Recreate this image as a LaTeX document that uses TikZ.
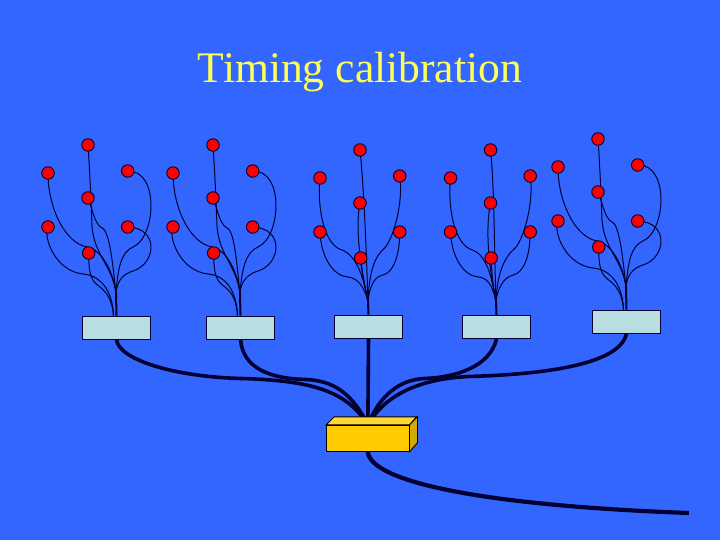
\documentclass[tikz,border=0pt]{standalone}
\usepackage{xcolor}
\usepackage{fontspec}
\setmainfont{Liberation Serif}
\usetikzlibrary{backgrounds}
\definecolor{slidebg}{HTML}{3366FF}
\definecolor{titleyellow}{HTML}{FFFF55}
\definecolor{modfill}{HTML}{B8DEE2}
\definecolor{hubfill}{HTML}{FFCC00}
\definecolor{hubtop}{HTML}{FFD633}
\definecolor{hubside}{HTML}{D4AA00}
\definecolor{linedark}{HTML}{000033}

\begin{document}
\begin{tikzpicture}[
    x=1pt, y=-1pt,
    sensor/.style={circle, draw=linedark, fill=red, line width=0.9pt, minimum size=12.5pt, inner sep=0pt},
    module/.style={rectangle, draw=linedark, fill=modfill, line width=0.9pt, minimum width=68.5pt, minimum height=23pt, inner sep=0pt},
    hub/.style={rectangle, draw=black, fill=hubfill, line width=0.9pt, minimum width=82.3pt, minimum height=26pt, inner sep=0pt},
    fibre/.style={draw=linedark, line width=1pt},
    trunk/.style={draw=linedark, line width=2pt},
    cable/.style={draw=linedark, line width=3.6pt}
]
% Title
\node[text=titleyellow, font=\fontsize{43.6}{48}\selectfont, anchor=base] (title) at (360,83) {Timing calibration};

% Readout modules
\node[module] (mod1) at (116.5,327.5) {};
\node[module] (mod2) at (240.5,327.5) {};
\node[module] (mod3) at (368.5,326.5) {};
\node[module] (mod4) at (496.5,327) {};
\node[module] (mod5) at (626.5,321.5) {};

% Central box
\node[hub] (box) at (367.85,438.3) {};
\draw[fill=hubtop, line width=0.9pt] (box.north west) -- ++(8,-8) -- ++(82.3,0) -- (box.north east) -- cycle;
\draw[fill=hubside, line width=0.9pt] (box.north east) -- ++(8,-8) -- ++(0,26) -- (box.south east) -- cycle;

% Where the fibres merge
\coordinate (tip1) at (116,293);
\coordinate (tip2) at (240,293);
\coordinate (tip3) at (368,302);
\coordinate (tip4) at (496,302);
\coordinate (tip5) at (626,287);
\coordinate (exit) at (689,513);

% Sensors
\foreach \g/\px/\py in {1/88/145, 2/213/145, 3/360/150, 4/490.5/150, 5/598/139} {
  \node[sensor] (top\g) at (\px,\py) {};
  \node[sensor] (lu\g) at (\px-40,\py+28) {};
  \node[sensor] (ru\g) at (\px+39.7,\py+26) {};
  \node[sensor] (mid\g) at (\px,\py+53) {};
  \node[sensor] (ll\g) at (\px-40,\py+82) {};
  \node[sensor] (rl\g) at (\px+39.7,\py+82) {};
  \node[sensor] (bot\g) at (\px+0.7,\py+108) {};
}

\begin{scope}[on background layer]
\fill[slidebg] (0,0) rectangle (720,540);

% Fibres, outer groups
\foreach \g in {1,2,5} {
  \draw[fibre] (top\g.center) .. controls +(2,30) and +(-1,-26) .. ++(4,81) .. controls +(2,29) and +(-4,-28) .. (tip\g);
  \draw[fibre] (mid\g.center) .. controls +(4,8) and +(-8,-4) .. ++(14,30) .. controls +(8,3) and +(-3,-25) .. (tip\g);
  \draw[fibre] (lu\g.center) .. controls +(0,35) and +(-22,-4) .. ++(39,74) .. controls +(15,3) and +(-3,-22) .. (tip\g);
  \draw[fibre] (ll\g.center) .. controls +(-5,10) and +(-28,-3) .. ++(35,47) .. controls +(15,1) and +(-1,-28) .. ([xshift=-3pt]mod\g.north);
  \draw[fibre] (bot\g.center) .. controls +(0,24) and +(-8,-6) .. ++(11.3,34) .. controls +(9,7) and +(-1,-12) .. ([xshift=-3pt]mod\g.north);
  \draw[fibre] (ru\g.center) .. controls +(32,-1) and +(23,-10) .. ++(5.3,76) .. controls +(-12,5) and +(2,-25) .. (tip\g);
  \draw[fibre] (rl\g.center) .. controls +(32,1) and +(23,-7) .. ++(5.3,44) .. controls +(-10,3) and +(1,-12) .. (tip\g);
  \draw[trunk] (tip\g) -- (mod\g.north);
}

% Fibres, inner groups
\foreach \g in {3,4} {
  \draw[fibre] (top\g.center) .. controls +(4,40) and +(-2,-60) .. (tip\g);
  \draw[fibre] (mid\g.center) .. controls +(-5,25) and +(-8,-40) .. (tip\g);
  \draw[fibre] (lu\g.center) .. controls +(-3,30) and +(-18,-5) .. ++(22,72) .. controls +(14,5) and +(-4,-25) .. (tip\g);
  \draw[fibre] (ll\g.center) .. controls +(1,25) and +(-15,-1) .. ++(28,45) .. controls +(12,1) and +(-2,-10) .. (tip\g);
  \draw[fibre] (bot\g.center) .. controls +(0,10) and +(-3,-15) .. (tip\g);
  \draw[fibre] (ru\g.center) .. controls +(4,25) and +(9,-10) .. ++(-15,72) .. controls +(-10,8) and +(1,-30) .. (tip\g);
  \draw[fibre] (rl\g.center) .. controls +(0,25) and +(10,-2) .. ++(-17,43) .. controls +(-10,2) and +(1,-12) .. (tip\g);
  \draw[trunk] (tip\g) -- (mod\g.north);
}

% Cables to the central box
\draw[cable] (mod1.south) .. controls +(1.5,19) and +(-70,-2) .. ++(123.5,39) .. controls +(70,2) and +(-22,-35) .. (box.north);
\draw[cable] (mod2.south) .. controls +(2.5,29) and +(-35,-1) .. ++(64.5,40) .. controls +(30,1) and +(-15,-30) .. (box.north);
\draw[cable] (mod3.south) -- (box.north);
\draw[cable] (mod4.south) .. controls +(-6.5,28) and +(30,-1) .. ++(-71.5,39.5) .. controls +(-25,1) and +(12,-30) .. (box.north);
\draw[cable] (mod5.south) .. controls +(-6.5,32) and +(70,-2) .. ++(-156.5,43) .. controls +(-50,2) and +(17,-30) .. (box.north);
\draw[cable, line width=4.2pt] (box.south) .. controls +(2,28) and +(-219,-8) .. (exit);
\end{scope}
\end{tikzpicture}
\end{document}
